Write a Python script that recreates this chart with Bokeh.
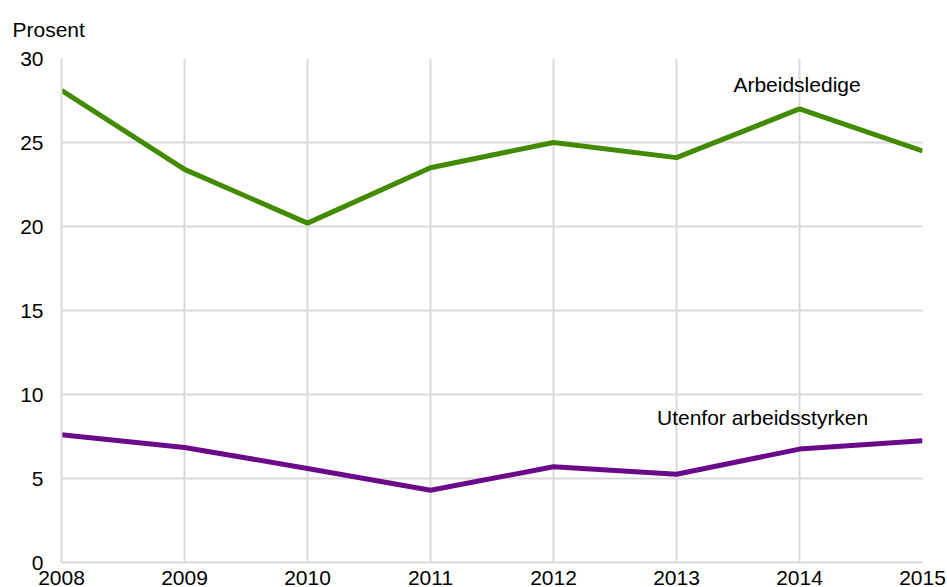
from bokeh.plotting import figure
from bokeh.models import Label, FixedTicker, Range1d
from bokeh.embed import file_html
from bokeh.resources import INLINE

years = [2008, 2009, 2010, 2011, 2012, 2013, 2014, 2015]
arbeidsledige = [28.1, 23.4, 20.2, 23.5, 25.0, 24.1, 27.0, 24.5]
utenfor = [7.6, 6.85, 5.6, 4.3, 5.7, 5.25, 6.75, 7.25]
y_ticks = [0, 5, 10, 15, 20, 25, 30]

FONT = "Liberation Sans"
GREEN = "#428a00"
PURPLE = "#6a0a8a"
GRID = "#d9d9d9"
FS = "21px"

p = figure(width=947, height=587, output_backend="svg", toolbar_location=None,
           x_range=Range1d(2008, 2015), y_range=Range1d(0, 30),
           min_border_left=61, min_border_right=25, min_border_top=58, min_border_bottom=25,
           title="Prosent")
p.outline_line_color = None
p.title.text_font = FONT
p.title.text_font_size = FS
p.title.text_font_style = "normal"
p.title.text_color = "#000000"
p.title.align = "left"
p.title.offset = -49
p.title.vertical_align = "top"
p.title.standoff = 32

p.line(years, arbeidsledige, line_color=GREEN, line_width=5)
p.line(years, utenfor, line_color=PURPLE, line_width=5)

p.xaxis.ticker = FixedTicker(ticks=years)
p.yaxis.ticker = FixedTicker(ticks=y_ticks)
for ax in [p.xaxis[0], p.yaxis[0]]:
    ax.axis_line_color = GRID
    ax.axis_line_width = 2
    ax.major_tick_line_color = None
    ax.minor_tick_line_color = None
    ax.major_label_text_font = FONT
    ax.major_label_text_font_size = FS
    ax.major_label_text_color = "#000000"
p.xaxis.major_label_standoff = 2
p.yaxis.major_label_standoff = 12

p.xgrid.grid_line_color = GRID
p.ygrid.grid_line_color = GRID
p.xgrid.grid_line_width = 2
p.ygrid.grid_line_width = 2

p.add_layout(Label(x=2013.98, y=28.45, text="Arbeidsledige",
                   text_font=FONT, text_font_size=FS, text_align="center",
                   text_baseline="middle", text_color="#000000"))
p.add_layout(Label(x=2013.7, y=8.63, text="Utenfor arbeidsstyrken",
                   text_font=FONT, text_font_size=FS, text_align="center",
                   text_baseline="middle", text_color="#000000"))

open("out.html", "w").write(file_html(p, INLINE))
